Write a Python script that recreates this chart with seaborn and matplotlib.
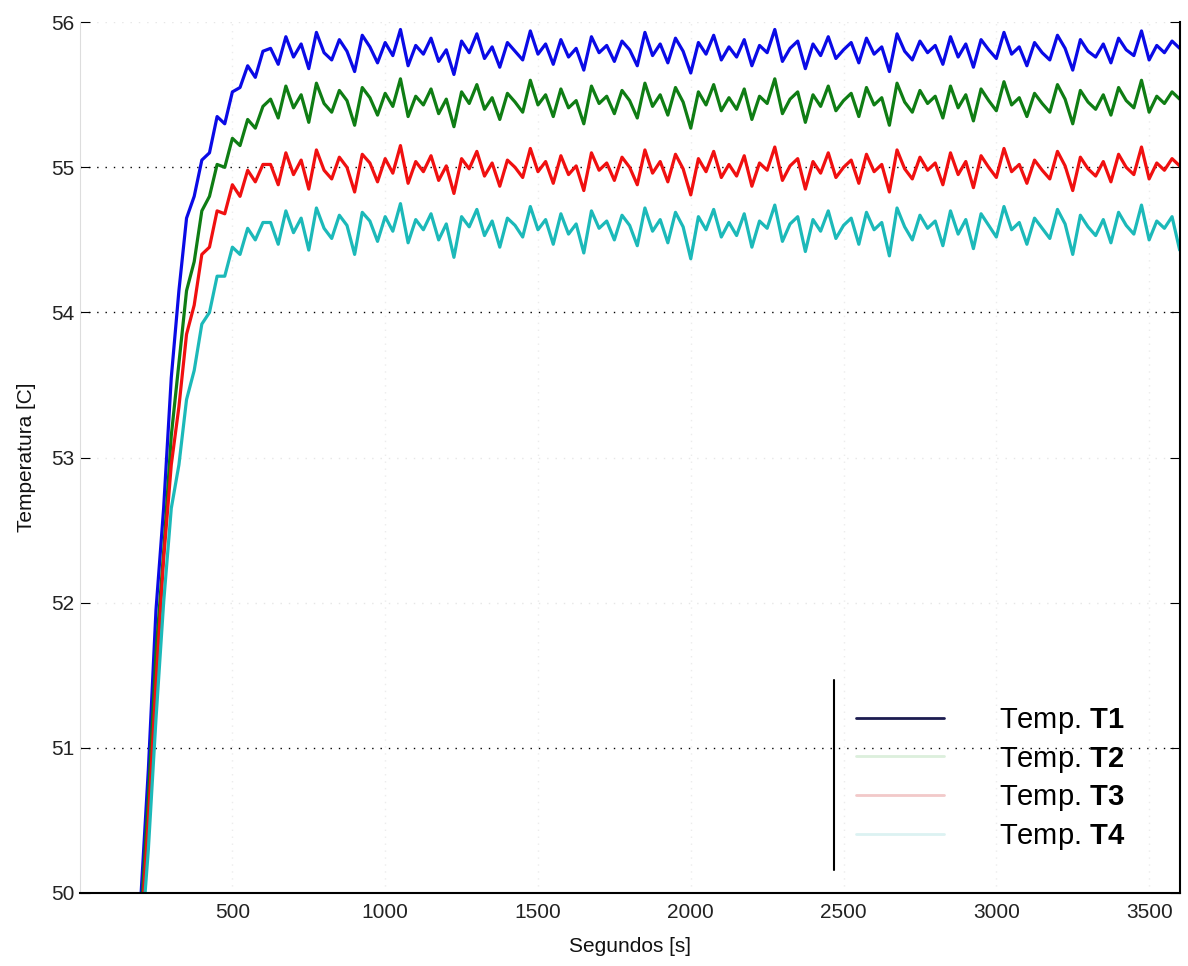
import pandas as pd
import matplotlib.pyplot as plt
import seaborn as sns
from matplotlib.lines import Line2D

# sample times (s)
seconds = list(range(200, 3601, 25))

# heating ramp, 200..600 s
t1_rise = [49.95, 50.85, 51.95, 52.65, 53.55, 54.15, 54.65, 54.80, 55.05, 55.10, 55.35, 55.30, 55.52, 55.55, 55.70, 55.62, 55.80]
t2_rise = [49.80, 50.65, 51.65, 52.35, 53.15, 53.65, 54.15, 54.35, 54.70, 54.80, 55.02, 55.00, 55.20, 55.15, 55.33, 55.27, 55.42]
t3_rise = [49.70, 50.50, 51.45, 52.30, 52.95, 53.35, 53.85, 54.05, 54.40, 54.45, 54.70, 54.68, 54.88, 54.80, 54.98, 54.90, 55.02]
t4_rise = [49.60, 50.30, 51.20, 52.00, 52.65, 52.95, 53.40, 53.60, 53.92, 54.00, 54.25, 54.25, 54.45, 54.40, 54.58, 54.50, 54.62]

# steady state, 625..3600 s
t1_flat = [55.82, 55.71, 55.90, 55.76, 55.85, 55.68, 55.93, 55.79, 55.74, 55.88,
           55.80, 55.66, 55.91, 55.83, 55.72, 55.86, 55.77, 55.95, 55.70, 55.84,
           55.78, 55.89, 55.73, 55.81, 55.64, 55.87, 55.79, 55.92, 55.75, 55.83,
           55.69, 55.86, 55.80, 55.74, 55.94, 55.78, 55.85, 55.71, 55.88, 55.76,
           55.82, 55.67, 55.90, 55.79, 55.84, 55.73, 55.87, 55.81, 55.70, 55.93,
           55.77, 55.85, 55.72, 55.89, 55.80, 55.65, 55.86, 55.78, 55.91, 55.74,
           55.83, 55.76, 55.88, 55.70, 55.84, 55.79, 55.95, 55.73, 55.82, 55.87,
           55.68, 55.85, 55.77, 55.90, 55.75, 55.81, 55.86, 55.72, 55.89, 55.78,
           55.83, 55.66, 55.92, 55.80, 55.74, 55.87, 55.79, 55.84, 55.71, 55.90,
           55.76, 55.85, 55.69, 55.88, 55.81, 55.75, 55.93, 55.78, 55.83, 55.70,
           55.86, 55.79, 55.74, 55.91, 55.82, 55.67, 55.88, 55.80, 55.76, 55.85,
           55.72, 55.89, 55.81, 55.77, 55.94, 55.74, 55.84, 55.79, 55.87, 55.82]
t2_flat = [55.47, 55.34, 55.56, 55.41, 55.50, 55.31, 55.58, 55.44, 55.38, 55.53,
           55.46, 55.29, 55.55, 55.48, 55.36, 55.51, 55.42, 55.61, 55.35, 55.49,
           55.43, 55.54, 55.37, 55.47, 55.28, 55.52, 55.44, 55.57, 55.40, 55.48,
           55.33, 55.51, 55.45, 55.38, 55.60, 55.43, 55.50, 55.35, 55.54, 55.41,
           55.46, 55.30, 55.56, 55.44, 55.49, 55.37, 55.53, 55.46, 55.34, 55.58,
           55.42, 55.50, 55.36, 55.55, 55.45, 55.27, 55.52, 55.43, 55.57, 55.39,
           55.48, 55.40, 55.54, 55.33, 55.49, 55.44, 55.61, 55.37, 55.47, 55.52,
           55.31, 55.50, 55.42, 55.56, 55.39, 55.46, 55.51, 55.35, 55.55, 55.43,
           55.48, 55.29, 55.58, 55.45, 55.38, 55.53, 55.44, 55.49, 55.34, 55.56,
           55.41, 55.50, 55.32, 55.54, 55.46, 55.39, 55.59, 55.43, 55.48, 55.35,
           55.51, 55.44, 55.38, 55.57, 55.47, 55.30, 55.53, 55.45, 55.40, 55.50,
           55.36, 55.55, 55.46, 55.41, 55.60, 55.38, 55.49, 55.44, 55.52, 55.47]
t3_flat = [55.02, 54.88, 55.10, 54.95, 55.05, 54.85, 55.12, 54.98, 54.92, 55.07,
           55.00, 54.83, 55.09, 55.03, 54.90, 55.06, 54.96, 55.15, 54.89, 55.04,
           54.97, 55.08, 54.91, 55.01, 54.82, 55.06, 54.99, 55.11, 54.94, 55.03,
           54.87, 55.05, 55.00, 54.93, 55.13, 54.97, 55.04, 54.89, 55.08, 54.95,
           55.01, 54.84, 55.10, 54.98, 55.03, 54.91, 55.07, 55.00, 54.88, 55.12,
           54.96, 55.04, 54.90, 55.09, 54.99, 54.81, 55.06, 54.97, 55.11, 54.93,
           55.02, 54.94, 55.08, 54.87, 55.03, 54.98, 55.14, 54.91, 55.01, 55.06,
           54.85, 55.04, 54.96, 55.10, 54.93, 55.00, 55.05, 54.89, 55.09, 54.97,
           55.02, 54.83, 55.12, 54.99, 54.92, 55.07, 54.98, 55.03, 54.88, 55.10,
           54.95, 55.04, 54.86, 55.08, 55.00, 54.93, 55.13, 54.97, 55.02, 54.89,
           55.05, 54.98, 54.92, 55.11, 55.01, 54.84, 55.07, 54.99, 54.94, 55.04,
           54.90, 55.09, 55.00, 54.95, 55.14, 54.92, 55.03, 54.98, 55.06, 55.01]
t4_flat = [54.62, 54.47, 54.70, 54.55, 54.65, 54.43, 54.72, 54.58, 54.51, 54.67,
           54.60, 54.40, 54.69, 54.63, 54.49, 54.66, 54.56, 54.75, 54.48, 54.64,
           54.57, 54.68, 54.50, 54.61, 54.38, 54.66, 54.59, 54.71, 54.53, 54.63,
           54.45, 54.65, 54.60, 54.52, 54.73, 54.57, 54.64, 54.47, 54.68, 54.54,
           54.61, 54.41, 54.70, 54.58, 54.63, 54.50, 54.67, 54.60, 54.46, 54.72,
           54.56, 54.64, 54.48, 54.69, 54.59, 54.37, 54.66, 54.57, 54.71, 54.52,
           54.62, 54.53, 54.68, 54.45, 54.63, 54.58, 54.74, 54.49, 54.61, 54.66,
           54.42, 54.64, 54.56, 54.70, 54.51, 54.60, 54.65, 54.47, 54.69, 54.57,
           54.62, 54.39, 54.72, 54.59, 54.50, 54.67, 54.58, 54.63, 54.46, 54.70,
           54.54, 54.64, 54.44, 54.68, 54.60, 54.52, 54.73, 54.57, 54.62, 54.47,
           54.65, 54.58, 54.51, 54.71, 54.61, 54.40, 54.67, 54.59, 54.53, 54.64,
           54.48, 54.69, 54.60, 54.54, 54.74, 54.50, 54.63, 54.58, 54.66, 54.43]

series_names = ['T1', 'T2', 'T3', 'T4']
series_values = [t1_rise + t1_flat, t2_rise + t2_flat, t3_rise + t3_flat, t4_rise + t4_flat]
legend_labels = ['Temp. $\\mathbf{T1}$', 'Temp. $\\mathbf{T2}$', 'Temp. $\\mathbf{T3}$', 'Temp. $\\mathbf{T4}$']
x_ticks = [500, 1000, 1500, 2000, 2500, 3000, 3500]
y_ticks = [50, 51, 52, 53, 54, 55, 56]

colors = {'T1': '#0a0ae6', 'T2': '#0f7d14', 'T3': '#f01010', 'T4': '#1cb9b9'}
legend_colors = ['#1c1c50', '#dcefdc', '#f2c9c9', '#dcf2f2']

frames = []
for name, vals in zip(series_names, series_values):
    frames.append(pd.DataFrame({'seconds': seconds, 'temp': vals, 'sensor': name}))
df = pd.concat(frames, ignore_index=True)

sns.set_style('white')
plt.rcParams['font.family'] = ['Liberation Sans', 'DejaVu Sans']
plt.rcParams['mathtext.fontset'] = 'custom'
plt.rcParams['mathtext.bf'] = 'Liberation Sans:bold'
plt.rcParams['mathtext.rm'] = 'Liberation Sans'

fig = plt.figure(figsize=(11.88, 9.66), dpi=100)
ax = fig.add_axes([0.067, 0.0756, 0.926, 0.9014])

sns.lineplot(data=df, x='seconds', y='temp', hue='sensor', palette=colors,
             estimator=None, linewidth=2.3, legend=False, ax=ax)

ax.set_xlim(0, 3600)
ax.set_ylim(50, 56)
ax.set_xticks(x_ticks)
ax.set_yticks(y_ticks)
ax.set_xlabel('Segundos [s]', fontsize=15, labelpad=11, color='#111111')
ax.set_ylabel('Temperatura [C]', fontsize=15, labelpad=11, color='#111111')
ax.tick_params(axis='both', labelsize=15, colors='#222222')
ax.tick_params(axis='y', direction='in', length=7, left=True, right=True, color='black')
ax.tick_params(axis='x', bottom=False)

# dotted grid, only some lines are dark in the original
ax.grid(True, axis='y', linestyle=(0, (1, 5)), color='black', linewidth=1.0)
for val, gl in zip(y_ticks, ax.get_ygridlines()):
    if val in (52, 53, 56):
        gl.set_color('#e6e6e6')
ax.grid(True, axis='x', linestyle=(0, (1, 4)), color='#ececec', linewidth=1.0)

ax.spines['top'].set_visible(False)
ax.spines['left'].set_color('#dddddd')
ax.spines['bottom'].set_color('black')
ax.spines['bottom'].set_linewidth(1.5)
ax.spines['right'].set_color('black')
ax.spines['right'].set_linewidth(1.5)

handles = [Line2D([0], [0], color=c, linewidth=2) for c in legend_colors]
ax.legend(handles, legend_labels, loc='upper left', bbox_to_anchor=(0.706, 0.215),
          frameon=False, fontsize=21, handlelength=3.0, handletextpad=1.9,
          labelspacing=0.3, borderpad=0, borderaxespad=0, labelcolor='black')
ax.plot([0.686, 0.686], [0.026, 0.245], transform=ax.transAxes, color='black', linewidth=1.5)

fig.savefig('out.png', dpi=100)
